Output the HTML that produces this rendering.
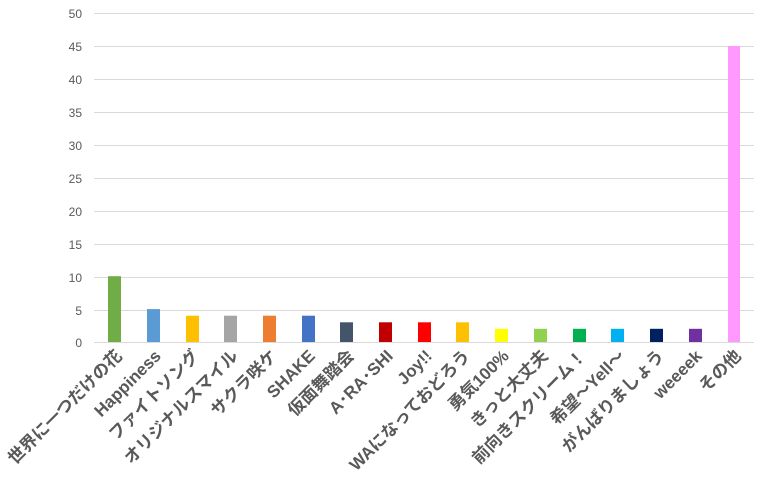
<!DOCTYPE html>
<html><head><meta charset="utf-8"><style>
html,body{margin:0;padding:0;background:#fff;}
svg{display:block;}
text{font-family:"Liberation Sans","Noto Sans CJK JP",sans-serif;}
</style></head><body>
<svg width="768" height="490" viewBox="0 0 768 490" xmlns="http://www.w3.org/2000/svg">
<g stroke="#d9d9d9" stroke-width="1">
<line x1="94" x2="754" y1="13.5" y2="13.5"/>
<line x1="94" x2="754" y1="46.5" y2="46.5"/>
<line x1="94" x2="754" y1="79.5" y2="79.5"/>
<line x1="94" x2="754" y1="112.5" y2="112.5"/>
<line x1="94" x2="754" y1="145.5" y2="145.5"/>
<line x1="94" x2="754" y1="178.5" y2="178.5"/>
<line x1="94" x2="754" y1="211.5" y2="211.5"/>
<line x1="94" x2="754" y1="244.5" y2="244.5"/>
<line x1="94" x2="754" y1="277.5" y2="277.5"/>
<line x1="94" x2="754" y1="310.5" y2="310.5"/>
<line x1="94" x2="754" y1="342.5" y2="342.5"/>
</g>
<g font-size="12" fill="#595959" text-anchor="end">
<text x="82" y="18">50</text><text x="82" y="51">45</text><text x="82" y="84">40</text>
<text x="82" y="117">35</text><text x="82" y="150">30</text><text x="82" y="183">25</text>
<text x="82" y="216">20</text><text x="82" y="249">15</text><text x="82" y="282">10</text>
<text x="82" y="315">5</text><text x="82" y="347">0</text>
</g>
<g>
<rect x="108" y="276.2" width="13" height="65.8" fill="#70ad47"/>
<rect x="147" y="309.1" width="13" height="32.9" fill="#5b9bd5"/>
<rect x="186" y="315.7" width="13" height="26.3" fill="#ffc000"/>
<rect x="224" y="315.7" width="13" height="26.3" fill="#a5a5a5"/>
<rect x="263" y="315.7" width="13" height="26.3" fill="#ed7d31"/>
<rect x="302" y="315.7" width="13" height="26.3" fill="#4472c4"/>
<rect x="340" y="322.3" width="13" height="19.7" fill="#44546a"/>
<rect x="379" y="322.3" width="13" height="19.7" fill="#c00000"/>
<rect x="418" y="322.3" width="13" height="19.7" fill="#ff0000"/>
<rect x="456" y="322.3" width="13" height="19.7" fill="#ffc000"/>
<rect x="495" y="328.8" width="13" height="13.2" fill="#ffff00"/>
<rect x="534" y="328.8" width="13" height="13.2" fill="#92d050"/>
<rect x="573" y="328.8" width="13" height="13.2" fill="#00b050"/>
<rect x="611" y="328.8" width="13" height="13.2" fill="#00b0f0"/>
<rect x="650" y="328.8" width="13" height="13.2" fill="#002060"/>
<rect x="689" y="328.8" width="13" height="13.2" fill="#7030a0"/>
<rect x="728" y="46" width="12" height="296" fill="#ff99ff"/>
</g>
<g font-size="17" font-weight="bold" fill="#595959" text-anchor="end">
<text transform="translate(123,357) rotate(-45)">世界に一つだけの花</text>
<text transform="translate(162,357) rotate(-45)">Happiness</text>
<text transform="translate(200,357) rotate(-45)">ファイトソング</text>
<text transform="translate(239,357) rotate(-45)">オリジナルスマイル</text>
<text transform="translate(278,357) rotate(-45)">サクラ咲ケ</text>
<text transform="translate(316,357) rotate(-45)">SHAKE</text>
<text transform="translate(355,357) rotate(-45)">仮面舞踏会</text>
<text transform="translate(394,357) rotate(-45)">A･RA･SHI</text>
<text transform="translate(433,357) rotate(-45)">Joy!!</text>
<text transform="translate(471,357) rotate(-45)">WAになっておどろう</text>
<text transform="translate(510,357) rotate(-45)">勇気100%</text>
<text transform="translate(549,357) rotate(-45)">きっと大丈夫</text>
<text transform="translate(587,357) rotate(-45)">前向きスクリーム！</text>
<text transform="translate(626,357) rotate(-45)">希望～Yell～</text>
<text transform="translate(665,357) rotate(-45)">がんばりましょう</text>
<text transform="translate(703,357) rotate(-45)">weeeek</text>
<text transform="translate(742,357) rotate(-45)">その他</text>
</g>
</svg>
</body></html>
